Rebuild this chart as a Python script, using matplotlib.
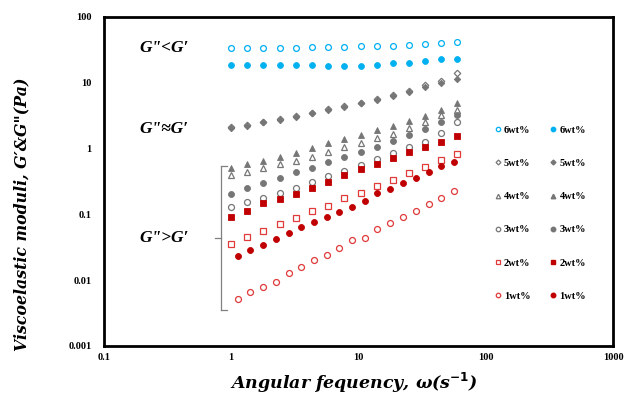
import matplotlib
matplotlib.use("Agg")
import matplotlib.pyplot as plt
from matplotlib.lines import Line2D

# Frequencies (rad/s)
freq = [1.0, 1.34, 1.79, 2.40, 3.20, 4.30, 5.80, 7.70, 10.4, 13.9, 18.6, 24.9, 33.4, 44.7, 59.9]
freq_1 = [1.12, 1.41, 1.78, 2.24, 2.82, 3.55, 4.47, 5.62, 7.08, 8.91, 11.2, 14.1,
          17.8, 22.4, 28.2, 35.5, 44.7, 56.2]

# Open markers = G', filled markers = G''
g6_open = [33.4, 33.4, 33.4, 33.4, 33.4, 34.6, 34.6, 35.4, 36.7, 36.7, 36.7, 37.5, 38.9, 39.8, 41.2]
g6_fill = [18.6, 18.6, 18.6, 18.6, 18.6, 18.6, 18.0, 18.0, 18.0, 18.6, 19.8, 20.2, 21.4, 23.0, 23.0]
g5_open = [2.10, 2.27, 2.58, 2.78, 3.08, 3.52, 3.95, 4.45, 5.00, 5.60, 6.45, 7.50, 9.26, 10.6, 14.2]
g5_fill = [2.04, 2.20, 2.51, 2.72, 2.99, 3.44, 3.86, 4.34, 4.88, 5.48, 6.30, 7.33, 8.73, 9.82, 11.3]
g4_open = [0.397, 0.436, 0.502, 0.577, 0.654, 0.753, 0.897, 1.05, 1.21, 1.44, 1.67, 2.04, 2.56, 3.24, 3.86]
g4_fill = [0.502, 0.577, 0.654, 0.753, 0.867, 1.01, 1.21, 1.38, 1.61, 1.92, 2.20, 2.62, 3.13, 3.86, 4.88]
g3_open = [0.128, 0.153, 0.179, 0.214, 0.249, 0.308, 0.388, 0.462, 0.563, 0.687, 0.849, 1.05, 1.27, 1.75, 2.51]
g3_fill = [0.202, 0.255, 0.303, 0.357, 0.436, 0.502, 0.620, 0.738, 0.898, 1.07, 1.32, 1.61, 1.99, 2.51, 3.24]
g2_open = [0.0355, 0.0449, 0.056, 0.0715, 0.0873, 0.114, 0.136, 0.176, 0.214, 0.270, 0.334, 0.422, 0.531, 0.671, 0.819]
g2_fill = [0.0923, 0.114, 0.147, 0.170, 0.204, 0.255, 0.311, 0.397, 0.490, 0.577, 0.712, 0.879, 1.07, 1.27, 1.57]
g1_open = [0.00513, 0.00655, 0.00797, 0.00948, 0.0127, 0.0160, 0.0203, 0.0242, 0.0305, 0.0409,
           0.0433, 0.0594, 0.0733, 0.0923, 0.114, 0.144, 0.180, 0.227]
g1_fill = [0.0233, 0.0288, 0.0343, 0.0419, 0.0516, 0.0637, 0.0759, 0.0923, 0.110, 0.131,
           0.162, 0.214, 0.243, 0.297, 0.354, 0.436, 0.545, 0.633]

labels = ["6wt%", "5wt%", "4wt%", "3wt%", "2wt%", "1wt%"]
x_ticks = [0.1, 1, 10, 100, 1000]
x_ticklabels = ["0.1", "1", "10", "100", "1000"]
y_ticks = [0.001, 0.01, 0.1, 1, 10, 100]
y_ticklabels = ["0.001", "0.01", "0.1", "1", "10", "100"]

CYAN = "#00B0F0"
GRAY = "#767676"
RED = "#C00000"
RED_O = "#E03A3A"

fig = plt.figure(figsize=(6.29, 4.03), dpi=100)
ax = fig.add_axes([104/629, 1-346/403, (613-104)/629, (346-17)/403])

series = [
    (freq, g6_open, g6_fill, "o", CYAN, CYAN, 4.2),
    (freq, g5_open, g5_fill, "D", GRAY, GRAY, 3.3),
    (freq, g4_open, g4_fill, "^", GRAY, GRAY, 4.3),
    (freq, g3_open, g3_fill, "o", GRAY, GRAY, 4.3),
    (freq, g2_open, g2_fill, "s", RED_O, RED, 4.3),
    (freq_1, g1_open, g1_fill, "o", RED_O, RED, 4.3),
]
open_handles, fill_handles = [], []
for (f, yo, yf, m, co, cf, ms), lab in zip(series, labels):
    ax.plot(f, yo, linestyle="none", marker=m, markersize=ms, markerfacecolor="white",
            markeredgecolor=co, markeredgewidth=0.9, zorder=3)
    ax.plot(f, yf, linestyle="none", marker=m, markersize=ms, markerfacecolor=cf,
            markeredgecolor=cf, markeredgewidth=0.6, zorder=4)
    open_handles.append(Line2D([], [], linestyle="none", marker=m, markersize=ms*0.75,
                               markerfacecolor="white", markeredgecolor=co, markeredgewidth=0.9))
    fill_handles.append(Line2D([], [], linestyle="none", marker=m, markersize=ms*0.75,
                               markerfacecolor=cf, markeredgecolor=cf))

ax.set_xscale("log")
ax.set_yscale("log")
ax.set_xlim(0.1, 1000)
ax.set_ylim(0.001, 100)
ax.set_xticks(x_ticks)
ax.set_xticklabels(x_ticklabels)
ax.set_yticks(y_ticks)
ax.set_yticklabels(y_ticklabels)
ax.minorticks_off()
ax.tick_params(axis="x", length=0, pad=5)
ax.tick_params(axis="y", length=0, pad=9)
for lab in ax.get_xticklabels() + ax.get_yticklabels():
    lab.set_fontfamily("Liberation Serif")
    lab.set_fontweight("bold")
    lab.set_fontsize(7.5)
for s in ax.spines.values():
    s.set_linewidth(2.0)

leg = fig.legend(open_handles + fill_handles, labels + labels, ncol=2, frameon=False,
                 loc="upper left", bbox_to_anchor=(484/629, 1-116/403),
                 prop={"family": "Liberation Serif", "weight": "bold", "size": 7.5},
                 labelspacing=2.3, handlelength=0.8, handletextpad=0.2, columnspacing=1.8)

afont = {"family": "Liberation Serif", "weight": "bold", "style": "italic", "size": 12.5}
fig.text(139/629, 1-48/403, 'G"<G′', ha="left", va="center", **afont)
fig.text(139/629, 1-129/403, 'G"≈G′', ha="left", va="center", **afont)
fig.text(139/629, 1-238/403, 'G">G′', ha="left", va="center", **afont)

# bracket
bx, btop, bbot, bmid = 220.7, 166, 310, 238.3
def fx(p): return p/629
def fy(p): return 1-p/403
br = dict(color="#808080", linewidth=0.9, transform=fig.transFigure)
fig.add_artist(Line2D([fx(bx), fx(bx)], [fy(btop), fy(bbot)], **br))
fig.add_artist(Line2D([fx(bx), fx(bx+6)], [fy(btop), fy(btop)], **br))
fig.add_artist(Line2D([fx(bx), fx(bx+6)], [fy(bbot), fy(bbot)], **br))
fig.add_artist(Line2D([fx(bx-6), fx(bx)], [fy(bmid), fy(bmid)], **br))

lfont = {"family": "DejaVu Serif", "weight": "bold", "style": "italic"}
fig.text(22/629, 1-214/403, "Viscoelastic moduli, G′&G\"(Pa)", rotation=90,
         ha="center", va="center", fontsize=11.3, **lfont)
fig.text(354/629, 1-383/403, r"Angular fequency, ω(s$^{\mathbf{-1}}$)",
         ha="center", va="center", fontsize=12.5, **lfont)

fig.savefig("out.png", dpi=100)
